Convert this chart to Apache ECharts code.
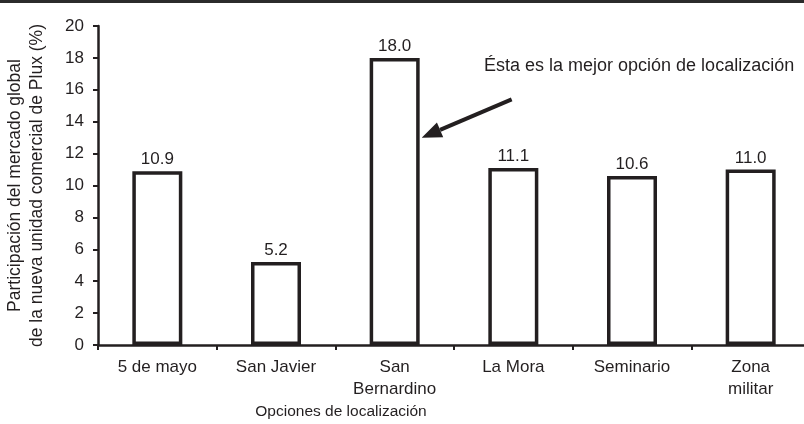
<!DOCTYPE html>
<html lang="es">
<head>
    <meta charset="UTF-8">
    <title>Opciones de localización</title>
    <script src="https://cdn.jsdelivr.net/npm/echarts@6/dist/echarts.min.js"></script>
    <style>
        html, body { margin: 0; padding: 0; background: #fff; }
        #main { width: 804px; height: 424px; }
    </style>
</head>
<body>
    <div id="main"></div>
    <script>
        // datos
        var categorias = ['5 de mayo', 'San Javier', 'San\nBernardino', 'La Mora', 'Seminario', 'Zona\nmilitar'];
        var participacion = [10.9, 5.2, 18.0, 11.1, 10.6, 11.0];
        var ejeY = { min: 0, max: 20, interval: 2 };

        var fuente = '"Liberation Sans", Arial, Helvetica, sans-serif';
        var tinta = '#231f20';

        var myChart = echarts.init(document.getElementById('main'));

        var option = {
            animation: false,
            textStyle: { fontFamily: fuente },
            grid: {
                left: 98,
                top: 26,
                width: 712,
                bottom: 79,
                containLabel: false,
                outerBoundsMode: 'none'
            },
            xAxis: {
                type: 'category',
                data: categorias,
                axisLine: { lineStyle: { color: tinta, width: 2.5 } },
                axisTick: { show: true, length: 5, lineStyle: { color: tinta, width: 2 } },
                axisLabel: {
                    color: tinta,
                    fontSize: 17,
                    margin: 11,
                    lineHeight: 22,
                    interval: 0
                }
            },
            yAxis: {
                type: 'value',
                min: ejeY.min,
                max: ejeY.max,
                interval: ejeY.interval,
                axisLine: { show: true, lineStyle: { color: tinta, width: 2.5 } },
                axisTick: { show: true, length: 5, lineStyle: { color: tinta, width: 2 } },
                splitLine: { show: false },
                axisLabel: { color: tinta, fontSize: 17, margin: 14 },
                name: 'Participación del mercado global\nde la nueva unidad comercial de Plux (%)',
                nameLocation: 'middle',
                nameGap: 50,
                nameTextStyle: { color: tinta, fontSize: 17.5, lineHeight: 22 }
            },
            series: [{
                type: 'bar',
                data: participacion,
                barWidth: 50,
                itemStyle: { color: '#fff', borderColor: tinta, borderWidth: 3.5 },
                label: {
                    show: true,
                    position: 'top',
                    distance: 3,
                    color: tinta,
                    fontSize: 17,
                    formatter: function (p) { return p.value.toFixed(1); }
                }
            }]
        };

        myChart.setOption(option);

        // flecha de anotacion apuntando a la barra mayor
        var iMax = participacion.indexOf(Math.max.apply(null, participacion));
        var centro = myChart.convertToPixel({ seriesIndex: 0 }, [iMax, 13]);
        var punta = [centro[0] + 27, centro[1]];
        var cola = myChart.convertToPixel({ seriesIndex: 0 }, [iMax, 15.4]);
        cola = [punta[0] + 90, cola[1]];
        var ang = Math.atan2(cola[1] - punta[1], cola[0] - punta[0]);
        var largo = 20, ancho = 8;
        var base = [punta[0] + largo * Math.cos(ang), punta[1] + largo * Math.sin(ang)];
        var nx = -Math.sin(ang) * ancho, ny = Math.cos(ang) * ancho;

        myChart.setOption({
            graphic: [
                { type: 'rect', shape: { x: 0, y: 0, width: 804, height: 3 }, style: { fill: '#2b2b2b' } },
                {
                    type: 'line',
                    shape: { x1: cola[0], y1: cola[1], x2: base[0], y2: base[1] },
                    style: { stroke: tinta, lineWidth: 4 }
                },
                {
                    type: 'polygon',
                    shape: { points: [punta, [base[0] + nx, base[1] + ny], [base[0] - nx, base[1] - ny]] },
                    style: { fill: tinta }
                },
                {
                    type: 'text',
                    x: 484, y: 66,
                    style: {
                        text: 'Ésta es la mejor opción de localización',
                        font: '18px ' + fuente,
                        fill: tinta,
                        verticalAlign: 'middle'
                    }
                },
                {
                    type: 'text',
                    x: 341, y: 412,
                    style: {
                        text: 'Opciones de localización',
                        font: '15.5px ' + fuente,
                        fill: tinta,
                        align: 'center',
                        verticalAlign: 'middle'
                    }
                }
            ]
        });
    </script>
</body>
</html>
